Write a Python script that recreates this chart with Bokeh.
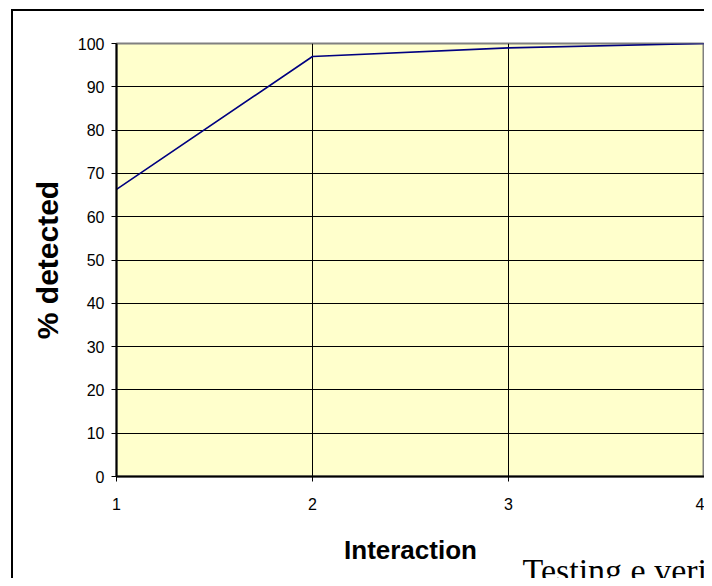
from bokeh.plotting import figure
from bokeh.models import Range1d, FixedTicker, Title
from bokeh.embed import file_html
from bokeh.resources import INLINE

interaction = [1, 2, 3, 4]
detected = [66.3, 97.0, 99.0, 100.0]
x_ticks = [1, 2, 3, 4]
y_ticks = [0, 10, 20, 30, 40, 50, 60, 70, 80, 90, 100]
x_title = "Interaction"
y_title = "% detected"
footer = "Testing e verifica"

# slide-style outer border (only its left and top edges fall inside the view)
border_css = {
    "background-color": "white",
    "background-image": "linear-gradient(#000, #000), linear-gradient(#000, #000)",
    "background-size": "2px 100%, 100% 2px",
    "background-position": "11px 9px, 11px 9px",
    "background-repeat": "no-repeat",
}

p = figure(width=704, height=578, output_backend="svg", toolbar_location=None,
           x_range=Range1d(1, 4), y_range=Range1d(0, 100),
           min_border_left=116, min_border_right=0, min_border_top=43, min_border_bottom=102,
           styles=border_css)

p.background_fill_color = "#FFFFCC"
p.border_fill_color = None
p.outline_line_color = "#808080"
p.outline_line_width = 2

p.line(interaction, detected, line_color="#000080", line_width=1.6)

for ax in (p.xaxis[0], p.yaxis[0]):
    ax.axis_line_color = "black"
    ax.axis_line_width = 2
    ax.major_tick_in = 0
    ax.major_tick_out = 5
    ax.major_tick_line_color = "black"
    ax.major_tick_line_width = 1
    ax.minor_tick_line_color = None
    ax.major_label_text_font = "Liberation Sans"
    ax.major_label_text_font_size = "16px"
    ax.major_label_text_color = "black"
    ax.axis_label_text_font = "Liberation Sans"
    ax.axis_label_text_font_style = "bold"
    ax.axis_label_text_color = "black"

p.xaxis.ticker = FixedTicker(ticks=x_ticks)
p.yaxis.ticker = FixedTicker(ticks=y_ticks)
p.xaxis.axis_label = x_title
p.yaxis.axis_label = y_title
p.xaxis.axis_label_text_font_size = "26px"
p.yaxis.axis_label_text_font_size = "30px"
p.xaxis.major_label_standoff = 16
p.yaxis.major_label_standoff = 7
p.xaxis.axis_label_standoff = 22
p.yaxis.axis_label_standoff = 11

p.xgrid.ticker = FixedTicker(ticks=x_ticks)
p.ygrid.ticker = FixedTicker(ticks=y_ticks)
for g in (p.xgrid[0], p.ygrid[0]):
    g.grid_line_color = "black"
    g.grid_line_width = 1
    g.grid_line_alpha = 1

# slide body text peeking in at the bottom edge
p.add_layout(Title(text=footer, align="left", offset=406, standoff=-34,
                   vertical_align="middle",
                   text_font="Liberation Serif", text_font_size="34px",
                   text_font_style="normal", text_color="black"), "below")

open("out.html", "w").write(file_html(p, INLINE))
